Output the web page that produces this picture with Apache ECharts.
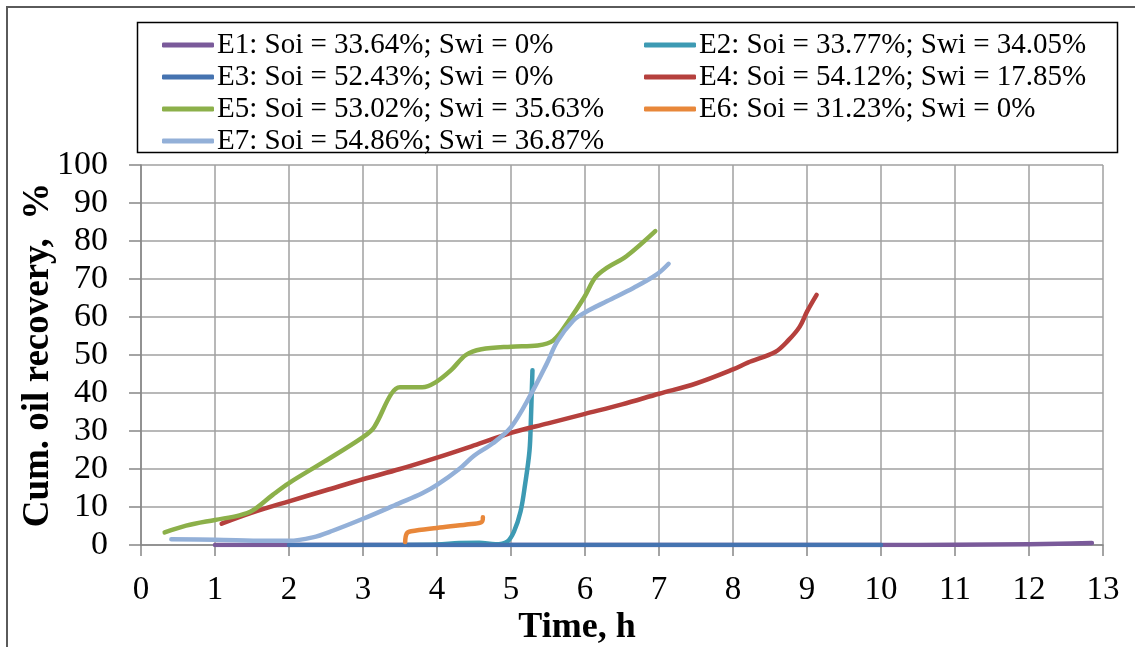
<!DOCTYPE html>
<html>
<head>
<meta charset="utf-8">
<script src="https://cdn.jsdelivr.net/npm/echarts@6/dist/echarts.min.js"></script>
<style>html,body{margin:0;padding:0;background:#fff;}#c{width:1135px;height:647px;}</style>
</head>
<body>
<div id="c"></div>
<script>
var names = [
  'E1: Soi = 33.64%; Swi = 0%',
  'E2: Soi = 33.77%; Swi = 34.05%',
  'E3: Soi = 52.43%; Swi = 0%',
  'E4: Soi = 54.12%; Swi = 17.85%',
  'E5: Soi = 53.02%; Swi = 35.63%',
  'E6: Soi = 31.23%; Swi = 0%',
  'E7: Soi = 54.86%; Swi = 36.87%'
];
var colors = ['#7a5a9a', '#3d9ab3', '#4573b0', '#b5403d', '#8cb04a', '#e8873a', '#93b0d8'];

var e1 = [[1,0],[2,0],[3,0],[4,0],[5,0],[6,0],[7,0],[8,0],[9,0],[10,0],[11,0.05],[12,0.2],[12.4,0.35],[12.85,0.5]];
var e2 = [[3.6,0],[4.0,0.1],[4.3,0.5],[4.57,0.6],[4.79,0.2],[4.95,0.9],[5.04,3.5],[5.13,8.9],[5.19,15.9],[5.25,24.8],[5.27,33.6],[5.28,39.8],[5.29,46]];
var e3 = [[2,0],[3,0],[4,0],[5,0],[6,0],[7,0],[8,0],[9,0],[10,0]];
var e4 = [[1.09,5.6],[1.5,8.5],[2,11.5],[2.5,14.4],[3,17.3],[3.5,20],[4,23],[4.5,26.2],[5,29.5],[5.5,32],[6,34.5],[6.5,37],[7,39.8],[7.5,42.5],[8,46.2],[8.2,48],[8.57,50.8],[8.75,53.9],[8.9,57.4],[9.0,61.4],[9.13,65.8]];
var e5 = [[0.32,3.3],[0.61,5.1],[1.0,6.6],[1.33,7.8],[1.51,9.1],[1.78,13.2],[2.0,16.3],[2.48,22],[3.0,28.4],[3.15,31],[3.38,39.7],[3.5,41.5],[3.8,41.5],[3.98,42.8],[4.19,46],[4.39,50],[4.6,51.5],[5.0,52.2],[5.36,52.5],[5.57,53.8],[5.78,59],[5.99,65.2],[6.14,70.4],[6.3,73],[6.56,76],[6.95,82.6]];
var e6 = [[3.57,0.8],[3.59,3.0],[3.65,3.6],[4.0,4.5],[4.4,5.4],[4.6,6.0],[4.62,7.3]];
var e7 = [[0.41,1.5],[1.0,1.4],[1.69,1.1],[2.0,1.1],[2.32,2],[2.59,3.75],[3.0,6.9],[3.48,10.9],[3.8,13.6],[4.0,15.8],[4.3,20],[4.5,23.5],[4.75,26.7],[5.0,31],[5.27,39.7],[5.48,47.6],[5.63,53.7],[5.84,59],[6.0,61.2],[6.3,64.2],[6.66,67.7],[6.97,71.2],[7.13,74]];
var seriesData = [e1, e2, e3, e4, e5, e6, e7];

var xTicks = [0,1,2,3,4,5,6,7,8,9,10,11,12,13];
var yTicks = [0,10,20,30,40,50,60,70,80,90,100];

var FONT = 'Liberation Serif';
var chart = echarts.init(document.getElementById('c'), null, {renderer: 'canvas'});

var series = seriesData.map(function (d, i) {
  return {
    name: names[i],
    type: 'line',
    data: d,
    smooth: 0.35,
    showSymbol: false,
    symbol: 'none',
    lineStyle: {width: 4.5, color: colors[i], cap: 'round', join: 'round'},
    itemStyle: {color: colors[i]},
    z: 2 + i
  };
});

var legendCommon = {
  orient: 'vertical',
  top: 24,
  itemWidth: 52,
  itemHeight: 5,
  itemGap: 0,
  icon: 'roundRect',
  textStyle: {fontFamily: FONT, fontSize: 29, color: '#000', lineHeight: 32, padding: [0,0,0,-2]}
};

chart.setOption({
  animation: false,
  backgroundColor: '#fff',
  color: colors,
  legend: [
    Object.assign({}, legendCommon, {left: 157, data: [names[0], names[2], names[4], names[6]]}),
    Object.assign({}, legendCommon, {left: 639, data: [names[1], names[3], names[5]]})
  ],
  graphic: [
    {type: 'rect', shape: {x: 7, y: 7, width: 1140, height: 660}, style: {fill: 'none', stroke: '#5a5a5a', lineWidth: 2}, silent: true},
    {type: 'rect', shape: {x: 137.5, y: 22.5, width: 980, height: 130}, style: {fill: 'none', stroke: '#000', lineWidth: 1.5}, silent: true}
  ],
  grid: {left: 141, right: 32, top: 165, bottom: 102, containLabel: false, outerBoundsMode: 'none'},
  xAxis: {
    type: 'value',
    min: xTicks[0], max: xTicks[xTicks.length - 1], interval: 1,
    name: 'Time, h',
    nameLocation: 'middle',
    nameGap: 65,
    nameMoveOverlap: false,
    nameTextStyle: {fontFamily: FONT, fontSize: 36, fontWeight: 'bold', color: '#000', padding: [0, 90, 0, 0]},
    axisLine: {show: true, lineStyle: {color: '#868686', width: 1.5}},
    axisTick: {show: true, length: 11, lineStyle: {color: '#868686', width: 1.5}},
    axisLabel: {fontFamily: FONT, fontSize: 33, color: '#000', margin: 29},
    splitLine: {show: true, lineStyle: {color: '#a0a0a0', width: 1.5}}
  },
  yAxis: {
    type: 'value',
    min: yTicks[0], max: yTicks[yTicks.length - 1], interval: 10,
    name: 'Cum. oil recovery,  %',
    nameLocation: 'middle',
    nameGap: 84,
    nameRotate: 90,
    nameMoveOverlap: false,
    nameTextStyle: {fontFamily: FONT, fontSize: 37, fontWeight: 'bold', color: '#000'},
    axisLine: {show: true, lineStyle: {color: '#868686', width: 1.5}},
    axisTick: {show: true, length: 12, lineStyle: {color: '#868686', width: 1.5}},
    axisLabel: {fontFamily: FONT, fontSize: 34, color: '#000', margin: 33},
    splitLine: {show: true, lineStyle: {color: '#a0a0a0', width: 1.5}}
  },
  series: series
});
</script>
</body>
</html>
